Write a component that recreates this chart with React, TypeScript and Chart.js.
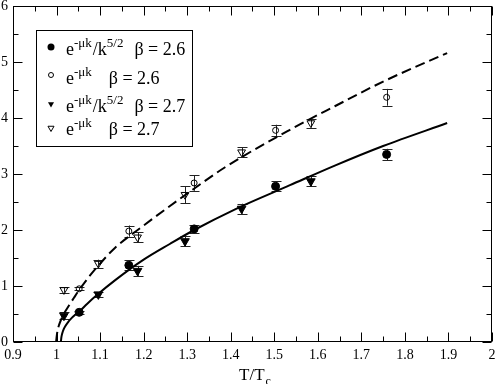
import React, { useEffect, useRef } from 'react';
import { Chart, registerables } from 'chart.js';

Chart.register(...registerables);

// ---- data ----
// β = 2.6 temperatures
const tempB26 = [1.052, 1.166, 1.316, 1.503, 1.758];
const corrB26_k52 = [0.53, 1.37, 2.02, 2.78, 3.35];
const errB26_k52 = [0.03, 0.09, 0.07, 0.09, 0.1];
const corrB26_k = [0.95, 1.98, 2.84, 3.78, 4.37];
const errB26_k = [0.03, 0.1, 0.14, 0.1, 0.15];
// β = 2.7 temperatures
const tempB27 = [1.017, 1.096, 1.186, 1.295, 1.425, 1.584];
const corrB27_k52 = [0.47, 0.85, 1.27, 1.8, 2.38, 2.87];
const errB27_k52 = [0.06, 0.04, 0.09, 0.09, 0.09, 0.09];
const corrB27_k = [0.93, 1.4, 1.87, 2.63, 3.39, 3.91];
const errB27_k = [0.05, 0.07, 0.09, 0.15, 0.09, 0.08];
// fit curves
const solidFitX = [1.01, 1.011, 1.013, 1.016, 1.02, 1.027, 1.035, 1.045, 1.053, 1.07, 1.096, 1.134, 1.2, 1.26, 1.316, 1.41, 1.536, 1.639, 1.75, 1.897];
const solidFitY = [0, 0.08, 0.15, 0.22, 0.28, 0.36, 0.43, 0.5, 0.55, 0.68, 0.86, 1.1, 1.47, 1.75, 2.0, 2.37, 2.8, 3.15, 3.5, 3.91];
const dashFitX = [0.999, 1.0, 1.002, 1.006, 1.01, 1.0155, 1.022, 1.03, 1.04, 1.052, 1.075, 1.1, 1.134, 1.2, 1.3, 1.387, 1.536, 1.639, 1.75, 1.897];
const dashFitY = [0, 0.08, 0.19, 0.31, 0.39, 0.48, 0.57, 0.67, 0.79, 0.93, 1.17, 1.4, 1.68, 2.08, 2.65, 3.12, 3.79, 4.21, 4.65, 5.16];

const xAxisMin = 0.9, xAxisMax = 2, xStep = 0.1;
const yAxisMin = 0, yAxisMax = 6, yStep = 1;
const axisTitleMain = 'T/T';
const axisTitleSub = 'c';

type Marker = 'filledCircle' | 'openCircle' | 'filledTri' | 'openTri';
const legendRows: { marker: Marker; parts: [string, boolean][]; beta: string }[] = [
  { marker: 'filledCircle', parts: [['e', false], ['-μk', true], ['/k', false], ['5/2', true]], beta: 'β = 2.6' },
  { marker: 'openCircle', parts: [['e', false], ['-μk', true]], beta: 'β = 2.6' },
  { marker: 'filledTri', parts: [['e', false], ['-μk', true], ['/k', false], ['5/2', true]], beta: 'β = 2.7' },
  { marker: 'openTri', parts: [['e', false], ['-μk', true]], beta: 'β = 2.7' },
];

const SERIF = '"Liberation Serif", "DejaVu Serif", serif';

const toPts = (xs: number[], ys: number[]) => xs.map((x, i) => ({ x, y: ys[i] }));

function drawMarker(ctx: CanvasRenderingContext2D, m: Marker, x: number, y: number, r: number) {
  ctx.save();
  ctx.beginPath();
  ctx.lineWidth = 1;
  ctx.strokeStyle = '#000';
  ctx.fillStyle = '#000';
  if (m === 'filledCircle' || m === 'openCircle') {
    ctx.arc(x, y, r, 0, Math.PI * 2);
  } else {
    ctx.moveTo(x, y + r);
    ctx.lineTo(x - r * 0.866, y - r * 0.5);
    ctx.lineTo(x + r * 0.866, y - r * 0.5);
    ctx.closePath();
  }
  if (m === 'filledCircle' || m === 'filledTri') ctx.fill();
  else ctx.stroke();
  ctx.restore();
}

const errorSets = [
  { xs: tempB26, ys: corrB26_k52, es: errB26_k52 },
  { xs: tempB26, ys: corrB26_k, es: errB26_k },
  { xs: tempB27, ys: corrB27_k52, es: errB27_k52 },
  { xs: tempB27, ys: corrB27_k, es: errB27_k },
];

const decorPlugin = {
  id: 'decor',
  beforeDatasetsDraw(chart: any) {
    const ctx: CanvasRenderingContext2D = chart.ctx;
    const xs = chart.scales.x, ys = chart.scales.y;
    ctx.save();
    ctx.strokeStyle = '#222';
    ctx.lineWidth = 1;
    for (const s of errorSets) {
      s.xs.forEach((xv, i) => {
        const px = Math.round(xs.getPixelForValue(xv)) + 0.5;
        const yTop = ys.getPixelForValue(s.ys[i] + s.es[i]);
        const yBot = ys.getPixelForValue(s.ys[i] - s.es[i]);
        ctx.beginPath();
        ctx.moveTo(px, yTop);
        ctx.lineTo(px, yBot);
        ctx.moveTo(px - 5, Math.round(yTop) + 0.5);
        ctx.lineTo(px + 5, Math.round(yTop) + 0.5);
        ctx.moveTo(px - 5, Math.round(yBot) + 0.5);
        ctx.lineTo(px + 5, Math.round(yBot) + 0.5);
        ctx.stroke();
      });
    }
    ctx.restore();
  },
  afterDraw(chart: any) {
    const ctx: CanvasRenderingContext2D = chart.ctx;
    const { left, right, top, bottom } = chart.chartArea;
    const xs = chart.scales.x, ys = chart.scales.y;
    ctx.save();
    ctx.strokeStyle = '#000';
    ctx.lineWidth = 1;
    // frame
    const L = Math.round(left) + 0.5, R = Math.round(right) - 0.5;
    const T = Math.round(top) + 0.5, B = Math.round(bottom) - 0.5;
    ctx.strokeRect(L, T, R - L, B - T);
    // x ticks
    ctx.beginPath();
    const xt = xs.ticks.map((t: any) => t.value);
    for (let i = 0; i < xt.length; i++) {
      const px = Math.round(xs.getPixelForValue(xt[i])) + 0.5;
      ctx.moveTo(px, B); ctx.lineTo(px, B - 9);
      ctx.moveTo(px, T); ctx.lineTo(px, T + 9);
      if (i < xt.length - 1) {
        const pm = Math.round(xs.getPixelForValue((xt[i] + xt[i + 1]) / 2)) + 0.5;
        ctx.moveTo(pm, B); ctx.lineTo(pm, B - 5);
        ctx.moveTo(pm, T); ctx.lineTo(pm, T + 5);
      }
    }
    const yt = ys.ticks.map((t: any) => t.value);
    for (let i = 0; i < yt.length; i++) {
      const py = Math.round(ys.getPixelForValue(yt[i])) + 0.5;
      ctx.moveTo(L, py); ctx.lineTo(L + 9, py);
      ctx.moveTo(R, py); ctx.lineTo(R - 9, py);
      if (i < yt.length - 1) {
        const pm = Math.round(ys.getPixelForValue((yt[i] + yt[i + 1]) / 2)) + 0.5;
        ctx.moveTo(L, pm); ctx.lineTo(L + 5, pm);
        ctx.moveTo(R, pm); ctx.lineTo(R - 5, pm);
      }
    }
    ctx.stroke();

    // axis title
    ctx.fillStyle = '#000';
    ctx.textBaseline = 'alphabetic';
    ctx.font = `17px ${SERIF}`;
    const mainW = ctx.measureText(axisTitleMain).width;
    ctx.font = `12px ${SERIF}`;
    const subW = ctx.measureText(axisTitleSub).width;
    const cx = (left + right) / 2 + 2;
    const tx = cx - (mainW + subW) / 2;
    ctx.font = `17px ${SERIF}`;
    ctx.textAlign = 'left';
    ctx.fillText(axisTitleMain, tx, 380);
    ctx.font = `12px ${SERIF}`;
    ctx.fillText(axisTitleSub, tx + mainW + 1, 385);

    // legend
    const bx = left + 23.5, by = top + 24.5;
    ctx.fillStyle = '#fff';
    ctx.fillRect(bx, by, 156, 116);
    ctx.strokeRect(bx, by, 156, 116);
    ctx.fillStyle = '#000';
    const baselines = [55, 83.5, 112, 134.5];
    const markerY = [47, 75, 104, 128];
    const markerR: Record<Marker, number> = { filledCircle: 3.5, openCircle: 2.5, filledTri: 3.5, openTri: 3.5 };
    legendRows.forEach((row, i) => {
      drawMarker(ctx, row.marker, left + 38, markerY[i], markerR[row.marker]);
      let x = left + 53;
      const base = baselines[i];
      for (const [t, sup] of row.parts) {
        ctx.font = sup ? `13px ${SERIF}` : `18px ${SERIF}`;
        ctx.fillText(t, x, sup ? base - 8 : base);
        x += ctx.measureText(t).width + (sup ? 1 : 0);
      }
      ctx.font = `18px ${SERIF}`;
      ctx.fillText(row.beta, x + (row.parts.length > 2 ? 10 : 16), base);
    });
    ctx.restore();
  },
};

export default function App() {
  const ref = useRef<HTMLCanvasElement | null>(null);
  useEffect(() => {
    document.body.style.margin = '0';
    const canvas = ref.current!;
    const tickFont = { family: SERIF, size: 14 };
    const fmt = (v: any) => String(+Number(v).toFixed(2));
    const chart = new Chart(canvas, {
      type: 'scatter',
      data: {
        datasets: [
          {
            label: 'e^-μk/k^5/2 β=2.6',
            data: toPts(tempB26, corrB26_k52),
            pointStyle: 'circle', pointRadius: 4, backgroundColor: '#000', borderColor: '#000', borderWidth: 1,
          },
          {
            label: 'e^-μk β=2.6',
            data: toPts(tempB26, corrB26_k),
            pointStyle: 'circle', pointRadius: 3, backgroundColor: 'rgba(0,0,0,0)', borderColor: '#000', borderWidth: 1,
          },
          {
            label: 'e^-μk/k^5/2 β=2.7',
            data: toPts(tempB27, corrB27_k52),
            pointStyle: 'triangle', rotation: 180, pointRadius: 5, backgroundColor: '#000', borderColor: '#000', borderWidth: 1,
          },
          {
            label: 'e^-μk β=2.7',
            data: toPts(tempB27, corrB27_k),
            pointStyle: 'triangle', rotation: 180, pointRadius: 4.5, backgroundColor: 'rgba(0,0,0,0)', borderColor: '#000', borderWidth: 1,
          },
          {
            type: 'line',
            label: 'fit k5/2',
            data: toPts(solidFitX, solidFitY),
            showLine: true, pointRadius: 0, borderColor: '#000', borderWidth: 2, fill: false,
            cubicInterpolationMode: 'monotone',
          },
          {
            type: 'line',
            label: 'fit k',
            data: toPts(dashFitX, dashFitY),
            showLine: true, pointRadius: 0, borderColor: '#000', borderWidth: 2, fill: false,
            borderDash: [10, 5], cubicInterpolationMode: 'monotone',
          },
        ] as any,
      },
      options: {
        animation: false,
        responsive: false,
        maintainAspectRatio: false,
        events: [],
        layout: { padding: { top: 6, right: 6, left: 0, bottom: 0 } },
        plugins: { legend: { display: false }, tooltip: { enabled: false } },
        scales: {
          x: {
            type: 'linear', min: xAxisMin, max: xAxisMax,
            ticks: { stepSize: xStep, font: tickFont, color: '#000', padding: 5, maxRotation: 0, autoSkip: false, callback: fmt },
            grid: { display: false, drawTicks: false }, border: { display: false },
            afterFit: (s: any) => { s.height = 42; s.paddingLeft = 0; s.paddingRight = 0; },
          },
          y: {
            type: 'linear', min: yAxisMin, max: yAxisMax,
            ticks: { stepSize: yStep, font: tickFont, color: '#000', padding: 5, callback: fmt },
            grid: { display: false, drawTicks: false }, border: { display: false },
            afterFit: (s: any) => { s.width = 13; s.paddingTop = 0; s.paddingBottom = 0; },
          },
        },
      } as any,
      plugins: [decorPlugin],
    });
    return () => chart.destroy();
  }, []);
  return <canvas ref={ref} width={498} height={384} style={{ display: 'block' }} />;
}
